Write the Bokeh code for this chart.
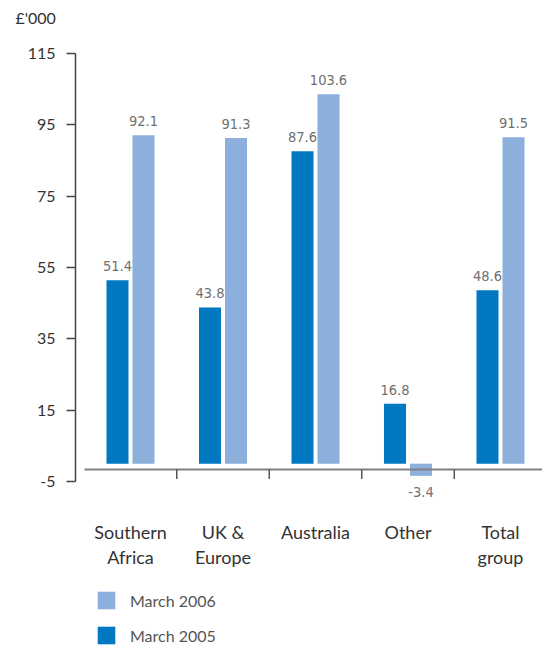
from bokeh.plotting import figure
from bokeh.models import (Range1d, LinearAxis, FixedTicker, Legend, LegendItem,
                          ColumnDataSource)
from bokeh.core.properties import value
from bokeh.transform import dodge
from bokeh.embed import file_html
from bokeh.resources import INLINE

# ---- data ----
categories = ["Southern\nAfrica", "UK &\nEurope", "Australia", "Other", "Total\ngroup"]
march_2005 = [51.4, 43.8, 87.6, 16.8, 48.6]
march_2006 = [92.1, 91.3, 103.6, -3.4, 91.5]
y_ticks = [-5, 15, 35, 55, 75, 95, 115]
unit_label = "£'000"

DARK = "#0079c2"
LIGHT = "#8cafdc"
LABEL_FONT = "DejaVu Sans Condensed"
MAIN_FONT = "Lato"

xs = list(range(len(categories)))
boundaries = [i + 0.5 for i in xs[:-1]]

src = ColumnDataSource(dict(
    x=xs,
    cat=categories,
    d05=march_2005,
    d06=march_2006,
    l05=[f"{v:.1f}" for v in march_2005],
    l06=[f"{v:.1f}" for v in march_2006],
    b05=["bottom" if v >= 0 else "top" for v in march_2005],
    b06=["bottom" if v >= 0 else "top" for v in march_2006],
    o05=[-9 if v >= 0 else 11 for v in march_2005],
    o06=[-9 if v >= 0 else 11 for v in march_2006],
))

TOP = 32  # expected height of title panel (px)
PX_PER_UNIT = 3.567
y_top = 115 + (53 - TOP) / PX_PER_UNIT
y_bot = -5 - (646 - 481) / PX_PER_UNIT

p = figure(width=542, height=646,
           x_range=Range1d(-0.5946, 4.454), y_range=Range1d(y_bot, y_top),
           x_axis_location=None, y_axis_location=None,
           toolbar_location=None, output_backend="svg",
           min_border_left=75, min_border_right=0, min_border_top=0, min_border_bottom=0)
p.outline_line_color = None
p.xgrid.visible = False
p.ygrid.visible = False
p.background_fill_color = "white"
p.border_fill_color = "white"

# unit label as title
p.title.text = unit_label
p.title.align = "left"
p.title.offset = -60
p.title.standoff = 11
p.title.text_font = MAIN_FONT
p.title.text_font_style = "normal"
p.title.text_font_size = "16px"
p.title.text_color = "#333333"

# y axis
yax = LinearAxis(ticker=FixedTicker(ticks=y_ticks), bounds=(-5, 115))
yax.axis_line_color = "#444444"
yax.axis_line_width = 1.5
yax.major_tick_line_color = "#444444"
yax.major_tick_line_width = 1.5
yax.major_tick_out = 9
yax.major_tick_in = 0
yax.minor_tick_line_color = None
yax.major_label_standoff = 11
yax.major_label_overrides = {-5: "-5"}
yax.major_label_text_font = MAIN_FONT
yax.major_label_text_font_size = "16px"
yax.major_label_text_color = "#333333"
p.add_layout(yax, "left")

# bars
bw = 0.238
off = 0.1405
r05 = p.vbar(x=dodge("x", -off, range=p.x_range), top="d05", bottom=0, width=bw,
             source=src, fill_color=DARK, line_color=None)
r06 = p.vbar(x=dodge("x", off, range=p.x_range), top="d06", bottom=0, width=bw,
             source=src, fill_color=LIGHT, line_color=None)

# baseline (x axis line) and category boundary ticks
p.segment(x0=-0.497, y0=-1.63, x1=4.454, y1=-1.63, line_color="#808080", line_width=2)
p.segment(x0=boundaries, y0=[-1.63] * len(boundaries), x1=boundaries,
          y1=[-4.3] * len(boundaries), line_color="#555555", line_width=1.5)

# value labels
p.text(x=dodge("x", -off, range=p.x_range), y="d05", text="l05", source=src,
       text_align="center", text_baseline="b05", y_offset="o05",
       text_font=value(LABEL_FONT), text_font_size="14.5px", text_color="#707070")
p.text(x=dodge("x", off, range=p.x_range), y="d06", text="l06", source=src,
       text_align="center", text_baseline="b06", y_offset="o06",
       text_font=value(LABEL_FONT), text_font_size="14.5px", text_color="#707070")

# category labels
p.text(x="x", y=-16.2, text="cat", source=src, text_align="center",
       text_baseline="top", text_font=value(MAIN_FONT), text_font_size="18px",
       text_color="#333333", text_line_height=1.1)

# legend
legend = Legend(items=[LegendItem(label="March 2006", renderers=[r06]),
                       LegendItem(label="March 2005", renderers=[r05])],
                location=(20, 0), orientation="vertical",
                glyph_width=22, glyph_height=22, label_height=22,
                spacing=13, label_standoff=13, padding=0, margin=0,
                border_line_color=None, background_fill_alpha=0,
                label_text_font=MAIN_FONT, label_text_font_size="16px",
                label_text_color="#555555")
p.add_layout(legend)

open("out.html", "w").write(file_html(p, INLINE))
